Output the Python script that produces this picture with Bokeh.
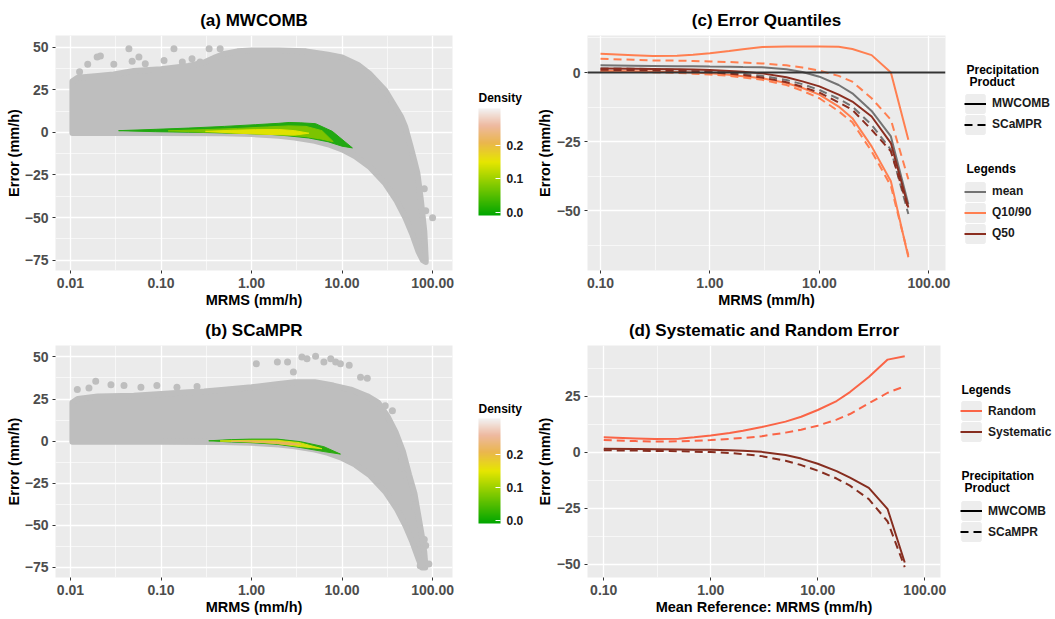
import numpy as np
from bokeh.plotting import figure
from bokeh.models import (FixedTicker, PrintfTickFormatter, Span, Legend, LegendItem,
                          ColorBar, LinearColorMapper, Label, Range1d)
from bokeh.layouts import row, column
from bokeh.embed import file_html
from bokeh.resources import INLINE

# ---------------- data ----------------
x_ticks_ab = [0.01, 0.1, 1, 10, 100]
x_ticks_cd = [0.1, 1, 10, 100]
x_minor = [0.0316, 0.316, 3.16, 31.6]
y_ticks_ab = [-75, -50, -25, 0, 25, 50]
y_minor_ab = [-62.5, -37.5, -12.5, 12.5, 37.5]
y_ticks_c = [-50, -25, 0]
y_minor_c = [-62.5, -37.5, -12.5, 12.5]
y_ticks_d = [-50, -25, 0, 25]
y_minor_d = [-37.5, -12.5, 12.5, 37.5]
density_ticks = [0.0, 0.1, 0.2]

# (a) MWCOMB scatter cloud envelope
a_up_x = [0.0105, 0.012, 0.02, 0.03, 0.05, 0.1, 0.2, 0.3, 0.4, 0.5, 0.7, 1, 2, 4, 7, 10, 15, 20, 30, 45, 50, 57, 63, 68, 74, 81, 84]
a_up_y = [30, 32, 33, 34, 36, 37, 39, 41, 44, 46, 47.5, 48, 48, 47.5, 45.5, 44, 39.5, 34.5, 24.5, 9, 3, -8, -17, -24, -39, -58, -74]
a_lo_x = [84, 78, 70, 60, 50, 40, 30, 20, 14, 10, 7, 5, 3, 2, 1, 0.5, 0.1, 0.0105]
a_lo_y = [-76, -75, -70, -60, -50, -40, -30, -20, -14, -10, -7, -5, -3, -2, -1, -0.5, -0.3, -0.3]
a_out_x = [0.0126, 0.0155, 0.0197, 0.0214, 0.0301, 0.0442, 0.048, 0.057, 0.067, 0.108, 0.139, 0.172, 0.22, 0.27, 0.34, 0.45, 81, 84, 100]
a_out_y = [35.5, 39.9, 44.2, 44.8, 40, 49, 41.7, 44.2, 40.3, 42.2, 49, 41.3, 43.2, 41.3, 49, 49, -33, -46, -50]
# (a) density contour layers
a_d1_x = [0.034, 0.09, 0.2, 0.5, 1.1, 2.0, 2.6, 3.5, 5.1, 7.8, 13, 10, 7, 4.3, 2.5, 1.7, 1.0, 0.47, 0.2, 0.087]
a_d1_y = [1.0, 1.8, 2.5, 3.5, 4.5, 5.3, 5.8, 5.6, 5.1, 0.6, -9.1, -8.1, -5.5, -3.3, -2.0, -1.3, -0.8, -0.3, 0.1, 0.4]
a_d2_x = [0.12, 0.3, 0.7, 1.5, 2.6, 4, 6, 8, 6, 4, 2.5, 1.5, 0.7, 0.3]
a_d2_y = [0.9, 1.6, 2.3, 3.2, 3.8, 3.5, 1.0, -5.5, -4.0, -2.5, -1.6, -1.0, -0.5, 0.1]
a_d3_x = [0.31, 0.6, 1.1, 2.0, 3.0, 4.3, 3.0, 2.0, 1.1, 0.6]
a_d3_y = [0.6, 1.2, 1.6, 1.7, 1.0, -0.5, -1.6, -1.4, -0.9, -0.3]

# (b) SCaMPR scatter cloud envelope
b_up_x = [0.0105, 0.012, 0.02, 0.05, 0.1, 0.2, 0.3, 0.5, 1, 2, 3, 5, 8, 12.5, 19, 25, 31.6, 39, 47, 55, 63, 71, 77, 81, 83]
b_up_y = [23, 25, 26.5, 27, 28, 29, 29.5, 30.5, 32, 34, 35, 35, 33, 30.6, 26.7, 22.9, 15, 5.4, -6, -20, -31, -47, -58, -66, -73]
b_lo_x = [83, 76, 70, 60, 50, 40, 30, 20, 14, 10, 7, 5, 3, 2, 1, 0.5, 0.1, 0.0105]
b_lo_y = [-75, -75, -70, -60, -50, -40, -30, -20, -14, -10, -7, -5, -3, -2, -1, -0.5, -0.3, -0.3]
b_out_x = [0.0119, 0.016, 0.019, 0.028, 0.039, 0.06, 0.09, 0.15, 0.25, 1.13, 1.93, 2.5, 2.9, 3.6, 4.1, 5.1, 6.3, 7.5, 8.5, 9.6, 12, 16, 19, 30, 36, 46, 48, 61, 63, 81, 84, 91, 73]
b_out_y = [30.6, 31.6, 35.5, 33.5, 33, 32, 33, 32, 32.5, 46, 47, 47, 41, 50, 49, 50.4, 47, 49, 47, 46, 45, 38, 37.4, 21, 18, -11, -20, -34, -39, -58.5, -62, -73, -74]
b_d1_x = [0.337, 0.6, 0.975, 1.92, 3.47, 6.3, 9.6, 6.3, 3.47, 1.92, 0.975, 0.6]
b_d1_y = [0.2, 0.9, 1.2, 1.2, -0.3, -3.3, -7.7, -6.2, -3.8, -1.9, -0.9, -0.5]
b_d2_x = [0.45, 0.97, 1.9, 3.4, 6.0, 3.4, 1.9, 0.97]
b_d2_y = [0.1, 0.5, 0.5, -0.9, -4.5, -3.2, -1.4, -0.5]
b_d3_x = [0.6, 1.0, 1.6, 2.5, 3.5, 2.5, 1.6, 1.0]
b_d3_y = [-0.1, 0.1, -0.2, -0.8, -2.0, -2.0, -1.0, -0.4]

# (c) error quantiles and (d) systematic / random error
cd_x = [0.1, 0.2, 0.3, 0.5, 0.7, 1, 1.5, 2, 3, 5, 7, 10, 15, 20, 30, 45, 65]
q90_mw = [6.8, 6.3, 6.0, 6.1, 6.4, 7.0, 7.8, 8.4, 9.2, 9.4, 9.4, 9.4, 9.3, 8.5, 6.3, 0.0, -24.3]
q90_sc = [5.0, 4.6, 4.4, 4.3, 4.2, 4.0, 3.8, 3.6, 3.3, 2.6, 1.8, 0.7, -1.2, -3.3, -9.3, -17.1, -38.6]
mean_mw = [2.6, 2.5, 2.4, 2.3, 2.3, 2.2, 2.1, 2.0, 1.9, 1.2, 0.2, -1.5, -4.5, -7.5, -13.9, -23.1, -47.6]
mean_sc = [1.5, 1.4, 1.2, 1.0, 0.8, 0.5, 0.1, -0.4, -1.2, -2.7, -4.2, -6.3, -9.5, -12.3, -18.9, -27.9, -51.2]
q50_mw = [1.5, 1.4, 1.3, 1.2, 1.1, 0.9, 0.6, 0.3, -0.3, -1.7, -3.2, -5.0, -8.0, -10.5, -15.9, -25.5, -48.8]
q50_sc = [1.0, 0.9, 0.8, 0.6, 0.4, 0.1, -0.4, -0.9, -1.8, -3.5, -5.2, -7.3, -10.8, -13.5, -20.7, -28.5, -49.4]
q10_mw = [0.6, 0.5, 0.4, 0.2, 0.0, -0.3, -0.8, -1.3, -2.1, -3.8, -5.6, -8.0, -12.3, -16.5, -26.7, -39.3, -66.8]
q10_sc = [0.3, 0.2, 0.1, -0.1, -0.4, -0.7, -1.2, -1.8, -2.6, -4.5, -6.6, -9.3, -14.0, -18.0, -28.5, -41.0, -66.2]
rand_mw = [6.6, 6.1, 5.8, 6.0, 6.6, 7.4, 8.5, 9.5, 11.2, 13.6, 15.8, 18.8, 22.8, 26.8, 33.5, 41.3, 42.8]
rand_sc = [5.4, 4.9, 4.7, 4.8, 5.0, 5.4, 5.9, 6.3, 7.1, 8.7, 10.0, 11.8, 14.5, 17.0, 21.8, 26.5, 29.4]
sys_mw = [1.5, 1.4, 1.3, 1.2, 1.1, 1.0, 0.8, 0.6, 0.1, -1.3, -2.9, -5.2, -8.5, -11.4, -16.0, -25.5, -49.3]
sys_sc = [0.8, 0.7, 0.5, 0.4, 0.2, 0.0, -0.4, -0.9, -1.8, -3.9, -5.8, -8.3, -11.8, -15.0, -21.0, -31.0, -51.4]

# ---------------- styles ----------------
FONT = "Liberation Sans"
GRAY = "#BEBEBE"
PANEL_BG = "#EBEBEB"
KEYBG = "#EDEDED"
C_MEAN = "#737373"
C_Q1090 = "#FF7F50"
C_Q50 = "#8B2E20"
C_RAND = "#FA6446"
C_SYS = "#862D1F"
DASH = "8 5"
LW = 2

# layout (page pixels)
H1, H2 = 310, 307
FRAME1 = (35, 272)    # top-row frame top / bottom on the page
FRAME2 = (345, 579)   # bottom-row frame top / bottom on the page
TOP2 = H1
W_AB, W_BAR, W_CD, W_LEG = 465, 65, 425, 98
X_BAR, X_LEG = W_AB, W_AB + W_BAR + W_CD


def base_fig(title, xr, yr, w, h, borders, xticks, yticks, yminor, xlabel, ylabel, ylab_standoff):
    l, r, t, b = borders
    p = figure(width=w, height=h, x_axis_type="log", x_range=Range1d(*xr), y_range=Range1d(*yr),
               output_backend="svg", toolbar_location=None, title=title,
               min_border_left=l, min_border_right=r, min_border_top=t, min_border_bottom=b)
    p.background_fill_color = PANEL_BG
    p.border_fill_color = "white"
    p.outline_line_color = None
    p.title.align = "center"
    p.title.text_font = FONT
    p.title.text_font_size = "17px"
    p.title.text_font_style = "bold"
    p.title.text_color = "black"
    p.title.standoff = 11
    xt = FixedTicker(ticks=xticks, minor_ticks=x_minor)
    yt = FixedTicker(ticks=yticks, minor_ticks=yminor)
    p.xaxis.ticker = xt
    p.xgrid.ticker = xt
    p.yaxis.ticker = yt
    p.ygrid.ticker = yt
    p.xaxis.formatter = PrintfTickFormatter(format="%.2f")
    p.grid.grid_line_color = "white"
    p.grid.grid_line_width = 1.3
    p.grid.minor_grid_line_color = "white"
    p.grid.minor_grid_line_width = 0.6
    p.axis.axis_line_color = None
    p.axis.major_tick_line_color = "#333333"
    p.axis.major_tick_in = 0
    p.axis.major_tick_out = 3
    p.axis.minor_tick_line_color = None
    p.axis.major_label_text_font = FONT
    p.axis.major_label_text_font_size = "14px"
    p.axis.major_label_text_font_style = "bold"
    p.axis.major_label_text_color = "#4D4D4D"
    p.axis.major_label_standoff = 3
    p.axis.axis_label_text_font = FONT
    p.axis.axis_label_text_font_size = "14.5px"
    p.axis.axis_label_text_font_style = "bold"
    p.axis.axis_label_text_color = "black"
    p.xaxis.axis_label = xlabel
    p.yaxis.axis_label = ylabel
    p.xaxis.axis_label_standoff = 1
    p.yaxis.axis_label_standoff = ylab_standoff
    return p


class Side:
    """a plain side figure whose data coordinates equal page pixels
    (x measured from the figure's left edge, y from the page top)"""
    def __init__(self, w, h, page_left, frame):
        self.page_left = page_left
        self.frame_bottom = frame[1]
        s = figure(width=w, height=h, x_range=Range1d(0, w), y_range=Range1d(frame[1], frame[0]),
                   x_axis_location=None, y_axis_location=None, toolbar_location=None,
                   output_backend="svg", min_border=0)
        s.grid.visible = False
        s.outline_line_color = None
        s.background_fill_color = "white"
        s.border_fill_color = "white"
        self.fig = s

    def label(self, text, px, py):
        self.fig.add_layout(Label(x=px - self.page_left, y=py, text=text, text_font=FONT,
                                  text_font_size="12px", text_font_style="bold",
                                  text_color="black", text_baseline="middle",
                                  text_align="left"))

    def legend(self, xs, ys, specs, px_left, py_bottom):
        items = []
        for lab, color, dash in specs:
            bg = self.fig.quad(left=xs, right=xs, top=ys, bottom=ys, fill_color=KEYBG,
                               line_color=KEYBG, line_width=3, visible=False)
            ln = self.fig.line(xs, ys, line_color=color, line_width=LW, line_dash=dash,
                               visible=False)
            items.append(LegendItem(label=lab, renderers=[bg, ln]))
        lg = Legend(items=items,
                    location=(px_left - self.page_left, self.frame_bottom - py_bottom),
                    glyph_width=22, glyph_height=21, spacing=0, padding=0, margin=0,
                    label_standoff=6, border_line_color=None, background_fill_alpha=0,
                    label_text_font=FONT, label_text_font_size="12px",
                    label_text_font_style="bold", label_text_color="#1A1A1A")
        self.fig.add_layout(lg, "center")


# density palette (terrain-like)
def _rgb(h):
    return [int(h[i:i + 2], 16) for i in (1, 3, 5)]


anchors = [(0.0, "#00A600"), (0.5, "#E6E600"), (0.68, "#EAB64E"), (0.84, "#EEB99F"), (1.0, "#F2F2F2")]
pal = []
for t in np.linspace(0, 1, 256):
    for (t0, c0), (t1, c1) in zip(anchors[:-1], anchors[1:]):
        if t0 <= t <= t1:
            f = (t - t0) / (t1 - t0)
            a, b = _rgb(c0), _rgb(c1)
            pal.append("#%02x%02x%02x" % tuple(int(round(a[i] + (b[i] - a[i]) * f)) for i in range(3)))
            break


def density_side(h, frame, bar_left, bar_top, bar_bottom, title_y):
    sd = Side(W_BAR, h, X_BAR, frame)
    mapper = LinearColorMapper(palette=pal, low=-0.009, high=0.31)
    cb = ColorBar(color_mapper=mapper, ticker=FixedTicker(ticks=density_ticks),
                  formatter=PrintfTickFormatter(format="%.1f"), width=22,
                  height=bar_bottom - bar_top,
                  location=(bar_left - sd.page_left, sd.frame_bottom - bar_bottom),
                  padding=0, margin=0, bar_line_color=None,
                  major_tick_line_color="white", major_tick_in=5, major_tick_out=0,
                  minor_tick_line_color=None, label_standoff=6,
                  major_label_text_font=FONT, major_label_text_font_size="12px",
                  major_label_text_font_style="bold", major_label_text_color="#1A1A1A",
                  background_fill_alpha=0, border_line_color=None)
    sd.fig.add_layout(cb, "center")
    sd.label("Density", bar_left, title_y)
    return sd.fig


def scatter_panel(title, h, borders, up_x, up_y, lo_x, lo_y, out_x, out_y, layers):
    p = base_fig(title, (0.00683, 166), (-81, 56.8), W_AB, h, borders, x_ticks_ab,
                 y_ticks_ab, y_minor_ab, "MRMS (mm/h)", "Error (mm/h)", 0)
    p.patch(list(up_x) + list(lo_x), list(up_y) + list(lo_y), fill_color=GRAY,
            line_color=GRAY, line_width=6, line_join="round")
    p.scatter(out_x, out_y, size=7, fill_color=GRAY, line_color=None)
    for (lx, ly), col in layers:
        p.patch(lx, ly, fill_color=col, line_color=col, line_width=1)
    return p


# ---------------- panels ----------------
bt1, bb1 = FRAME1[0], H1 - FRAME1[1]
bt2, bb2 = FRAME2[0] - TOP2, TOP2 + H2 - FRAME2[1]

pa = scatter_panel("(a) MWCOMB", H1, (55, 13, bt1, bb1), a_up_x, a_up_y, a_lo_x, a_lo_y,
                   a_out_x, a_out_y,
                   [((a_d1_x, a_d1_y), "#22A812"), ((a_d2_x, a_d2_y), "#7CC400"),
                    ((a_d3_x, a_d3_y), "#E0E200")])
sa = density_side(H1, FRAME1, 478, 110, 217, 98)

pb = scatter_panel("(b) SCaMPR", H2, (55, 13, bt2, bb2), b_up_x, b_up_y, b_lo_x, b_lo_y,
                   b_out_x, b_out_y,
                   [((b_d1_x, b_d1_y), "#2AAA10"), ((b_d2_x, b_d2_y), "#D6DE10"),
                    ((b_d3_x, b_d3_y), "#E8B45A")])
sb = density_side(H2, FRAME2, 478, 420, 525, 409)

pc = base_fig("(c) Error Quantiles", (0.076, 142), (-71.6, 13.4), W_CD, H1, (57, 10, bt1, bb1),
              x_ticks_cd, y_ticks_c, y_minor_c, "MRMS (mm/h)", "Error (mm/h)", 1)
pc.add_layout(Span(location=0, dimension="width", line_color="#333333", line_width=2))
for ys, col, dash in [(q90_mw, C_Q1090, "solid"), (q10_mw, C_Q1090, "solid"),
                      (q90_sc, C_Q1090, DASH), (q10_sc, C_Q1090, DASH),
                      (mean_mw, C_MEAN, "solid"), (mean_sc, C_MEAN, DASH),
                      (q50_mw, C_Q50, "solid"), (q50_sc, C_Q50, DASH)]:
    pc.line(cd_x, ys, line_color=col, line_width=LW, line_dash=dash)

sc = Side(W_LEG, H1, X_LEG, FRAME1)
sc.label("Precipitation", 966, 70)
sc.label("Product", 969, 82)
sc.legend(cd_x, q50_mw, [("MWCOMB", "black", "solid"), ("SCaMPR", "black", DASH)], 964, 136.5)
sc.label("Legends", 966, 170)
sc.legend(cd_x, mean_mw, [("mean", C_MEAN, "solid"), ("Q10/90", C_Q1090, "solid"),
                          ("Q50", C_Q50, "solid")], 964, 245.5)

pd_ = base_fig("(d) Systematic and Random Error", (0.0705, 140.3), (-56, 47.6), W_CD, H2,
               (57, 15, bt2, bb2), x_ticks_cd, y_ticks_d, y_minor_d,
               "Mean Reference: MRMS (mm/h)", "Error (mm/h)", 1)
for ys, col, dash in [(rand_mw, C_RAND, "solid"), (rand_sc, C_RAND, DASH),
                      (sys_mw, C_SYS, "solid"), (sys_sc, C_SYS, DASH)]:
    pd_.line(cd_x, ys, line_color=col, line_width=LW, line_dash=dash)

sdl = Side(W_LEG, H2, X_LEG, FRAME2)
sdl.label("Legends", 961, 390)
sdl.legend(cd_x, sys_mw, [("Random", C_RAND, "solid"), ("Systematic", C_SYS, "solid")], 960, 444)
sdl.label("Precipitation", 961, 477)
sdl.label("Product", 964, 489)
sdl.legend(cd_x, sys_sc, [("MWCOMB", "black", "solid"), ("SCaMPR", "black", DASH)], 960, 544)

layout = column(row(pa, sa, pc, sc.fig), row(pb, sb, pd_, sdl.fig))

open("out.html", "w").write(file_html(layout, INLINE))
